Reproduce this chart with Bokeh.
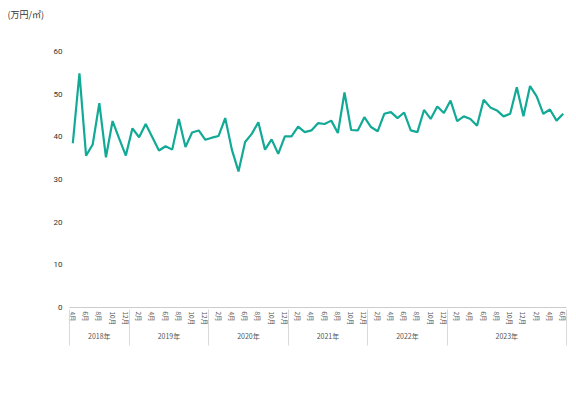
import math
from bokeh.plotting import figure
from bokeh.models import (FixedTicker, LinearAxis, Range1d, Title, ColumnDataSource)
from bokeh.embed import file_html
from bokeh.resources import INLINE

# ---- data (monthly, Apr 2018 .. Jun 2024) ----
values = [38.5, 54.9, 35.6, 38.2, 47.9, 35.2, 43.7, 39.6, 35.6,
          42.0, 39.9, 43.0, 39.9, 36.8, 37.8, 37.0, 44.2, 37.6, 41.0, 41.5, 39.3,
          39.8, 40.2, 44.4, 37.0, 31.9, 38.8, 40.7, 43.4, 37.0, 39.4, 36.0, 40.1,
          40.1, 42.4, 41.1, 41.5, 43.2, 43.0, 43.8, 40.9, 50.4, 41.6, 41.5, 44.6,
          42.3, 41.3, 45.4, 45.8, 44.4, 45.7, 41.5, 41.1, 46.3, 44.2, 47.1, 45.6,
          48.5, 43.7, 44.8, 44.2, 42.6, 48.7, 46.9, 46.2, 44.8, 45.4, 51.6, 44.8,
          51.9, 49.5, 45.4, 46.4, 43.8, 45.4]
months = [(3 + i) % 12 + 1 for i in range(len(values))]
month_labels = [f"{m}月" for m in months]
year_labels = ["2018年", "2019年", "2020年", "2021年", "2022年", "2023年"]
group_sizes = [9, 12, 12, 12, 12, 18]
y_ticks = [0, 10, 20, 30, 40, 50, 60]
unit_label = "(万円/㎡)"

idx = list(range(len(values)))
src = ColumnDataSource(dict(x=idx, y=values))

bounds = [-0.5]
for g in group_sizes:
    bounds.append(bounds[-1] + g)
centres = [(bounds[i] + bounds[i + 1]) / 2 for i in range(len(group_sizes))]

FONT = "Roboto"
CJK = "Noto Sans CJK JP"

TOP = 24          # frame top (px)
BOTTOM = 307      # frame bottom (px)
Y60 = 51          # pixel row of the 60 tick
y_end = 60 * (BOTTOM - TOP) / (BOTTOM - Y60)

p = figure(width=570, height=392, output_backend="svg", toolbar_location=None,
           x_range=Range1d(-0.5, len(values) - 0.5), y_range=Range1d(0, y_end),
           x_axis_location=None, min_border_left=69, min_border_right=4,
           min_border_top=TOP, min_border_bottom=392 - BOTTOM)
p.outline_line_color = None
p.xgrid.visible = False
p.ygrid.visible = False

p.line("x", "y", source=src, line_color="#12a996", line_width=2.2)

# y axis
ya = p.yaxis[0]
ya.ticker = FixedTicker(ticks=y_ticks)
ya.axis_line_color = None
ya.major_tick_line_color = None
ya.major_tick_out = 0
ya.major_tick_in = 0
ya.minor_tick_line_color = None
ya.minor_tick_out = 0
ya.major_label_standoff = 7
ya.major_label_text_font = FONT
ya.major_label_text_font_size = "8px"
ya.major_label_text_color = "#333333"

# month axis
even = [i for i in idx if i % 2 == 0]
ax1 = LinearAxis(ticker=FixedTicker(ticks=even, minor_ticks=[]))
ax1.major_label_overrides = {i: month_labels[i] for i in even}
ax1.major_label_orientation = -math.pi / 2
ax1.major_label_text_font = CJK
ax1.major_label_text_font_size = "6.5px"
ax1.major_label_text_color = "#555555"
ax1.major_label_standoff = 4
ax1.axis_line_color = "#cccccc"
ax1.major_tick_line_color = None
ax1.major_tick_out = 0
ax1.major_tick_in = 0
ax1.minor_tick_line_color = None
ax1.minor_tick_out = 0
p.add_layout(ax1, "below")

# year axis
ax2 = LinearAxis(ticker=FixedTicker(ticks=centres, minor_ticks=[]))
ax2.major_label_overrides = {c: year_labels[k] for k, c in enumerate(centres)}
ax2.major_label_text_font = CJK
ax2.major_label_text_font_size = "7px"
ax2.major_label_text_color = "#555555"
ax2.major_label_standoff = 2
ax2.axis_line_color = None
ax2.major_tick_line_color = None
ax2.major_tick_out = 0
ax2.major_tick_in = 0
ax2.minor_tick_line_color = None
ax2.minor_tick_out = 0
p.add_layout(ax2, "below")

# separator axis (group boundaries drawn as inward minor ticks)
ax3 = LinearAxis(ticker=FixedTicker(ticks=[], minor_ticks=bounds))
ax3.axis_line_color = None
ax3.major_label_text_font_size = "0px"
ax3.major_tick_line_color = None
ax3.major_tick_out = 0
ax3.major_tick_in = 0
ax3.minor_tick_line_color = "#d9d9d9"
ax3.minor_tick_in = 34
ax3.minor_tick_out = 2
p.add_layout(ax3, "below")

p.add_layout(Title(text=unit_label, align="left", offset=-62, standoff=8,
                   text_font=CJK, text_font_size="9px", text_color="#333333",
                   text_font_style="normal"), "above")

open("out.html", "w").write(file_html(p, INLINE))
